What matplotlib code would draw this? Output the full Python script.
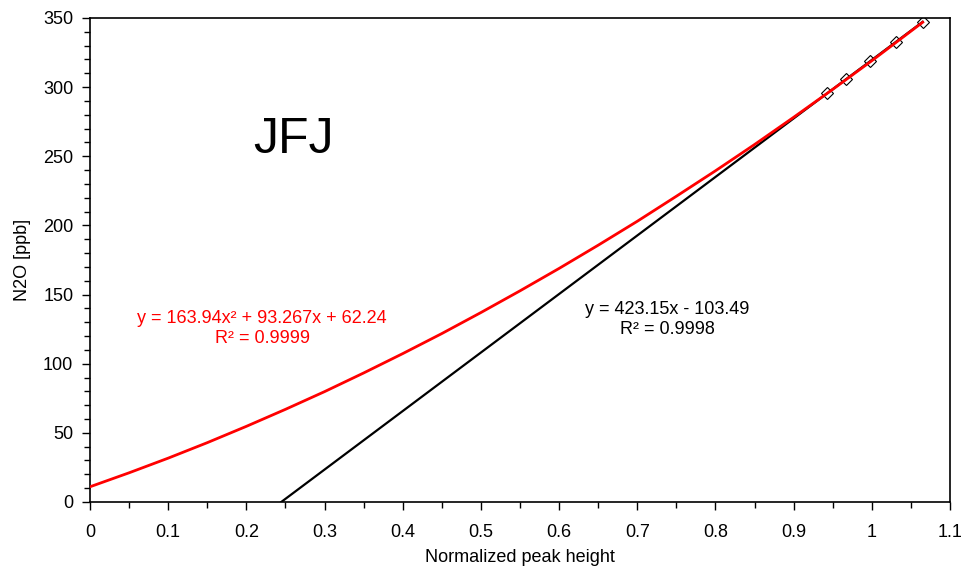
import matplotlib.pyplot as plt
from matplotlib.ticker import MultipleLocator

plt.rcParams['font.family'] = ['Liberation Sans', 'DejaVu Sans']

# measured points (normalized peak height vs N2O)
pts_x = [0.943, 0.967, 0.998, 1.031, 1.065]
pts_y = [295.5, 305.7, 319.0, 332.8, 347.2]

# polynomial trendline
curve_x = [0, 0.05, 0.1, 0.15, 0.2, 0.25, 0.3, 0.35, 0.4, 0.45, 0.5, 0.55,
           0.6, 0.65, 0.7, 0.75, 0.8, 0.85, 0.9, 0.95, 1.0, 1.065]
curve_y = [11, 21.1, 31.7, 42.9, 54.7, 67, 79.8, 93.3, 107.3, 121.8, 137, 152.7,
           168.9, 185.7, 203, 221.1, 239.5, 258.5, 278.2, 298.4, 319.1, 346.9]

# linear trendline end points
lin_x = [0.2446, 1.065]
lin_y = [0, 347.2]

fig = plt.figure(figsize=(9.65, 5.69), dpi=100)
ax = fig.add_axes([0.0933, 0.1178, 0.8912, 0.8506])

ax.plot(lin_x, lin_y, color='black', linewidth=1.6, zorder=2)
ax.plot(pts_x, pts_y, 'D', markersize=6, markerfacecolor='none',
        markeredgecolor='black', markeredgewidth=0.8, zorder=3)
ax.plot(curve_x, curve_y, color='red', linewidth=2, zorder=4)

ax.set_xlim(0, 1.1)
ax.set_ylim(0, 350)
ax.xaxis.set_major_locator(MultipleLocator(0.1))
ax.xaxis.set_minor_locator(MultipleLocator(0.05))
ax.yaxis.set_major_locator(MultipleLocator(50))
ax.yaxis.set_minor_locator(MultipleLocator(10))
ax.set_xticks([i / 10 for i in range(12)])
ax.set_xticklabels(['0', '0.1', '0.2', '0.3', '0.4', '0.5', '0.6', '0.7',
                    '0.8', '0.9', '1', '1.1'])
ax.tick_params(which='major', direction='out', length=6, width=1,
               labelsize=13)
ax.tick_params(axis='x', which='major', pad=10)
ax.tick_params(axis='y', which='major', pad=6)
ax.tick_params(which='minor', direction='out', length=4, width=1)
for s in ax.spines.values():
    s.set_linewidth(1.2)

ax.set_xlabel('Normalized peak height', fontsize=13, va='center')
ax.xaxis.set_label_coords(0.5, -0.115)
ax.set_ylabel('N2O [ppb]', fontsize=13, va='center')
ax.yaxis.set_label_coords(-0.078, 0.5)

ax.text(0.26, 262, 'JFJ', fontsize=36, ha='center', va='center')
ax.text(0.22, 133, 'y = 163.94x² + 93.267x + 62.24', color='red',
        fontsize=13, ha='center', va='center')
ax.text(0.22, 118.5, 'R² = 0.9999', color='red',
        fontsize=13, ha='center', va='center')
ax.text(0.738, 139, 'y = 423.15x - 103.49', color='black',
        fontsize=13, ha='center', va='center')
ax.text(0.738, 125, 'R² = 0.9998', color='black',
        fontsize=13, ha='center', va='center')

plt.savefig('out.png')
